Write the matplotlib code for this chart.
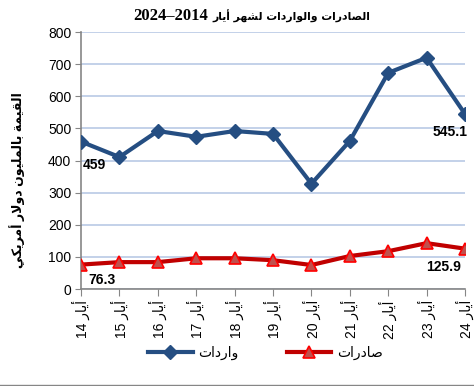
import matplotlib
matplotlib.use("Agg")
import matplotlib.pyplot as plt
from matplotlib.lines import Line2D

# data
years = ["14", "15", "16", "17", "18", "19", "20", "21", "22", "23", "24"]
imports = [459, 411, 492, 474, 492, 483, 328, 461, 673, 720, 545.1]
exports = [76.3, 84, 84, 96, 96, 90, 75, 103, 118, 143, 125.9]
yticks = [0, 100, 200, 300, 400, 500, 600, 700, 800]

# arabic letter forms: isolated, final, initial, medial
FORMS = {
    'ا': ('\ufe8d', '\ufe8e', None, None),
    'أ': ('\ufe83', '\ufe84', None, None),
    'ب': ('\ufe8f', '\ufe90', '\ufe91', '\ufe92'),
    'ة': ('\ufe93', '\ufe94', None, None),
    'ت': ('\ufe95', '\ufe96', '\ufe97', '\ufe98'),
    'د': ('\ufea9', '\ufeaa', None, None),
    'ر': ('\ufead', '\ufeae', None, None),
    'ش': ('\ufeb5', '\ufeb6', '\ufeb7', '\ufeb8'),
    'ص': ('\ufeb9', '\ufeba', '\ufebb', '\ufebc'),
    'ق': ('\ufed5', '\ufed6', '\ufed7', '\ufed8'),
    'ك': ('\ufed9', '\ufeda', '\ufedb', '\ufedc'),
    'ل': ('\ufedd', '\ufede', '\ufedf', '\ufee0'),
    'م': ('\ufee1', '\ufee2', '\ufee3', '\ufee4'),
    'ن': ('\ufee5', '\ufee6', '\ufee7', '\ufee8'),
    'ه': ('\ufee9', '\ufeea', '\ufeeb', '\ufeec'),
    'و': ('\ufeed', '\ufeee', None, None),
    'ي': ('\ufef1', '\ufef2', '\ufef3', '\ufef4'),
}
LAMALEF = {'ا': ('\ufefb', '\ufefc'), 'أ': ('\ufef7', '\ufef8')}


def ar(s):
    # shape arabic text and put it in visual (left to right) order
    chars = list(s)
    n = len(chars)
    out = []
    i = 0
    while i < n:
        c = chars[i]
        if c not in FORMS:
            out.append(c)
            i += 1
            continue
        prev = i > 0 and chars[i-1] in FORMS and FORMS[chars[i-1]][2] is not None
        if c == 'ل' and i+1 < n and chars[i+1] in LAMALEF:
            iso, fin = LAMALEF[chars[i+1]]
            out.append(fin if prev else iso)
            i += 2
            continue
        nxt = i+1 < n and chars[i+1] in FORMS and FORMS[c][2] is not None
        iso, fin, ini, med = FORMS[c]
        if prev and nxt:
            out.append(med)
        elif prev:
            out.append(fin)
        elif nxt:
            out.append(ini)
        else:
            out.append(iso)
        i += 1
    return ''.join(reversed(out))


plt.rcParams['font.family'] = ['Liberation Sans', 'DejaVu Sans']

fig = plt.figure(figsize=(4.74, 3.86), dpi=100)
ax = fig.add_axes([0.171, 0.251, 0.81, 0.666])

x = list(range(len(years)))
ax.plot(x, imports, color='#254E82', lw=3, marker='D', ms=7.5,
        mfc='#254E82', mec='#254E82', label=ar('واردات'), zorder=3)
ax.plot(x, exports, color='#C00000', lw=3, marker='^', ms=9,
        mfc='#C0504D', mec='#FF0000', mew=1.2, label=ar('صادرات'), zorder=3)

# data labels on first and last points
ax.annotate(f"{imports[0]:g}", (x[0], imports[0]), xytext=(1, -12), textcoords='offset points',
            ha='left', va='top', fontsize=10, fontweight='bold')
ax.annotate(f"{imports[-1]:g}", (x[-1], imports[-1]), xytext=(2, -8), textcoords='offset points',
            ha='right', va='top', fontsize=10, fontweight='bold')
ax.annotate(f"{exports[0]:g}", (x[0], exports[0]), xytext=(5, -6), textcoords='offset points',
            ha='left', va='top', fontsize=10, fontweight='bold')
ax.annotate(f"{exports[-1]:g}", (x[-1], exports[-1]), xytext=(-3, -8), textcoords='offset points',
            ha='right', va='top', fontsize=10, fontweight='bold')

ax.set_xlim(0, len(years) - 1)
ax.set_ylim(0, 800)
ax.set_yticks(yticks)
ax.set_xticks(x)
ax.set_xticklabels([f"{y} " + ar('أيار') for y in years], rotation=90, fontsize=10)
ax.tick_params(axis='y', labelsize=10, length=4, color='#868686', pad=3)
ax.tick_params(axis='x', length=5, color='#868686', pad=3)

ax.grid(axis='y', color='#B9C9E5', lw=1.2)
ax.set_axisbelow(True)
for s in ['top', 'right']:
    ax.spines[s].set_visible(False)
for s in ['left', 'bottom']:
    ax.spines[s].set_color('#868686')
    ax.spines[s].set_linewidth(1.2)

ax.set_ylabel(ar('القيمة بالمليون دولار أمريكي'), fontsize=9, fontweight='bold')
ax.yaxis.set_label_coords(-0.146, 0.424)

# title: years in a serif face, arabic words next to them
fig.text(0.439, 0.958, "2024\u20132014", ha='right', va='center', fontsize=12,
         fontweight='bold', family='Liberation Serif')
fig.text(0.449, 0.958, ar('الصادرات والواردات لشهر أيار'), ha='left', va='center',
         fontsize=7.8, fontweight='bold', family='DejaVu Sans')

fig.legend(loc='center', bbox_to_anchor=(0.56, 0.085), ncol=2, frameon=False,
           fontsize=10, handlelength=3.2, columnspacing=3.5, handletextpad=0.4)

fig.add_artist(Line2D([0, 1], [0.002, 0.002], color='#868686', lw=1))

fig.savefig("out.png", dpi=100)
